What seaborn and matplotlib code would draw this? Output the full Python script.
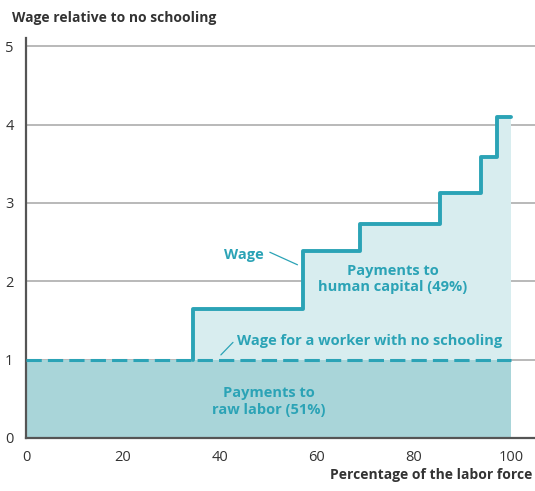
import seaborn as sns
import matplotlib.pyplot as plt
import pandas as pd

# step edges (percentage of labor force) and wage relative to no schooling
labor_share = [0, 34.5, 57.2, 69.0, 85.3, 93.8, 97.1, 100]
wage = [1.0, 1.64, 2.39, 2.73, 3.13, 3.59, 4.10, 4.10]
base_wage = 1.0
x_ticks = [0, 20, 40, 60, 80, 100]
y_ticks = [0, 1, 2, 3, 4, 5]

teal = "#2ba3b6"
dark_fill = "#a9d5d9"
light_fill = "#d8edef"
grid_col = "#a5a5a5"
ink = "#333333"

sns.set_style("white")
plt.rcParams['font.family'] = ['Open Sans', 'DejaVu Sans']

df = pd.DataFrame({"share": labor_share, "wage": wage})
# the solid wage line only shows where it rises above the base wage
df_line = pd.concat([pd.DataFrame({"share": [labor_share[1]], "wage": [base_wage]}),
                     df.iloc[1:]], ignore_index=True)

fig = plt.figure(figsize=(5.35, 4.91), dpi=100)
ax = fig.add_axes([0.0486, 0.108, 0.9514, 0.814])

for y in y_ticks[1:]:
    ax.axhline(y, color=grid_col, lw=1.1, zorder=0)

ax.fill_between(labor_share, wage, step="post", color=light_fill, lw=0, zorder=1)
ax.fill_between([0, 100], [base_wage, base_wage], color=dark_fill, lw=0, zorder=2)

sns.lineplot(data=df_line, x="share", y="wage", drawstyle="steps-post",
             estimator=None, sort=False, color=teal, lw=2.8, ax=ax, zorder=4)
ax.plot([0, 100], [base_wage, base_wage], color=teal, lw=2.2,
        ls=(0, (5, 2)), zorder=3)

ax.set_xlim(0, 105)
ax.set_ylim(0, 5.1)
ax.set_xticks(x_ticks)
ax.set_yticks(y_ticks)
ax.tick_params(axis="x", direction="inout", length=9, width=1.2, color="#555555",
               labelsize=10.5, labelcolor=ink, pad=4)
ax.tick_params(axis="y", length=0, labelsize=10.5, labelcolor=ink, pad=9)
for s in ["top", "right"]:
    ax.spines[s].set_visible(False)
for s in ["left", "bottom"]:
    ax.spines[s].set_color("#555555")
    ax.spines[s].set_linewidth(1.6)
ax.set_xlabel("")
ax.set_ylabel("")

txt = dict(color=teal, fontsize=10.5, fontweight="bold")
ax.text(45.0, 2.34, "Wage", ha="center", va="center", **txt)
ax.plot([50.3, 56.0], [2.37, 2.21], color=teal, lw=0.9, zorder=5)
ax.text(75.6, 2.03, "Payments to\nhuman capital (49%)", ha="center", va="center",
        linespacing=1.25, zorder=5,
        bbox=dict(facecolor=light_fill, edgecolor="none", pad=1.5), **txt)
ax.text(43.5, 1.24, "Wage for a worker with no schooling", ha="left", va="center", **txt)
ax.plot([40.2, 42.7], [1.06, 1.22], color=teal, lw=0.9, zorder=5)
ax.text(50.0, 0.47, "Payments to\nraw labor (51%)", ha="center", va="center",
        linespacing=1.25, **txt)

fig.text(0.022, 0.963, "Wage relative to no schooling", ha="left", va="center",
         fontsize=10, fontweight="bold", color=ink)
fig.text(0.996, 0.032, "Percentage of the labor force", ha="right", va="center",
         fontsize=10, fontweight="bold", color=ink)

fig.savefig("out.png", dpi=100)
